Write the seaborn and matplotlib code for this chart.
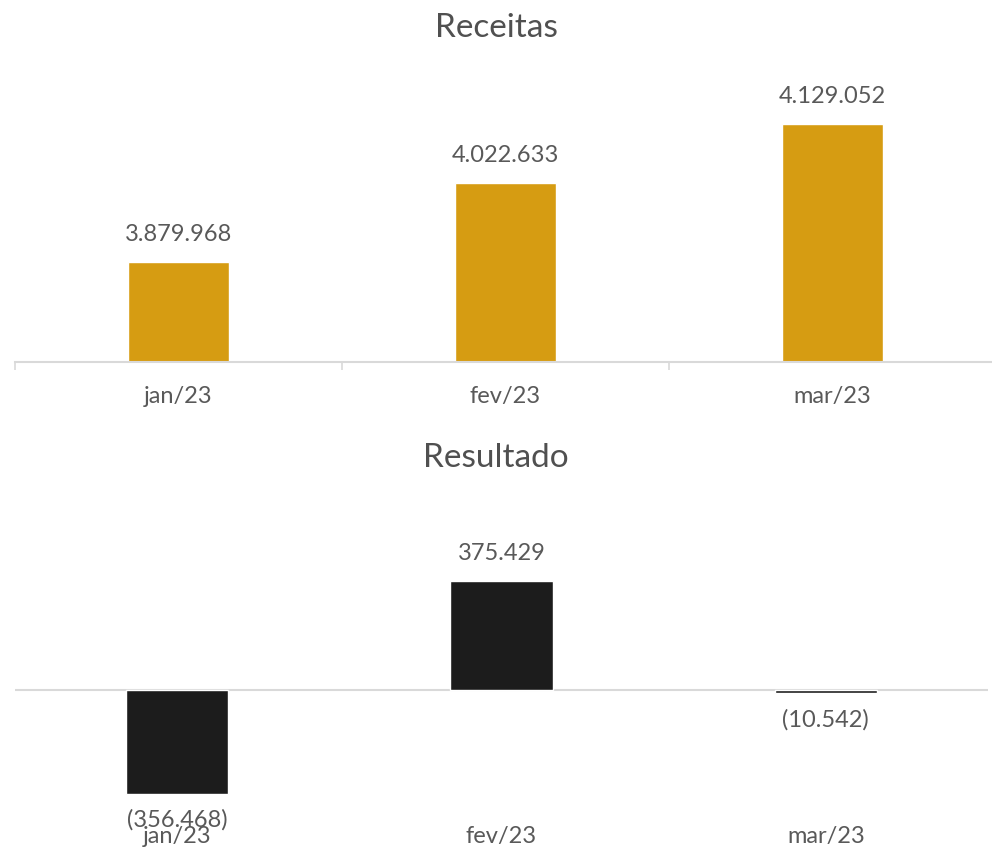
import matplotlib
matplotlib.use("Agg")
import matplotlib.pyplot as plt
import seaborn as sns
import pandas as pd

# data
meses = ["jan/23", "fev/23", "mar/23"]
receitas = [3879968, 4022633, 4129052]
resultado = [-356468, 375429, -10542]

GOLD = "#D69C12"
DARK = "#1C1C1C"
GREY_TXT = "#595959"
LINE = "#D9D9D9"

sns.set_theme(style="white")
plt.rcParams['font.family'] = ['Lato', 'DejaVu Sans']


def fmt(v):
    s = f"{abs(v):,}".replace(",", ".")
    return f"({s})" if v < 0 else s


fig = plt.figure(figsize=(9.92, 8.48), dpi=100)
W, H = 992, 848

# top chart - Receitas
ax1 = fig.add_axes([15 / W, 1 - 362 / H, 981 / W, 302 / H])
df1 = pd.DataFrame({"mes": meses, "valor": receitas})
sns.barplot(data=df1, x="mes", y="valor", color=GOLD, width=0.31,
            saturation=1, ax=ax1)
ax1.set_ylim(3700000, 4245000)
ax1.set_xlim(-0.5, 2.5)
for p, v in zip(ax1.patches, receitas):
    ax1.annotate(fmt(v), (p.get_x() + p.get_width() / 2, v),
                 xytext=(0, 20), textcoords="offset points",
                 ha="center", va="center", fontsize=17, color=GREY_TXT)
for s in ["top", "right", "left"]:
    ax1.spines[s].set_visible(False)
ax1.spines["bottom"].set_color(LINE)
ax1.spines["bottom"].set_linewidth(1.5)
ax1.set_yticks([])
ax1.set_xticks([-0.5, 0.5, 1.5, 2.5], minor=True)
ax1.tick_params(axis="x", which="minor", length=6, width=1.2, color=LINE,
                bottom=True)
ax1.tick_params(axis="x", which="major", length=0, pad=17,
                labelsize=17, labelcolor=GREY_TXT)
ax1.set_xlabel("")
ax1.set_ylabel("")
fig.text(0.5, 1 - 28 / H, "Receitas", ha="center", va="center",
         fontsize=24, color="#505050")

# bottom chart - Resultado
ax2 = fig.add_axes([15 / W, 1 - 820 / H, 973 / W, 320 / H])
df2 = pd.DataFrame({"mes": meses, "valor": resultado})
sns.barplot(data=df2, x="mes", y="valor", color=DARK, width=0.315,
            saturation=1, ax=ax2)
ax2.set_ylim(-447000, 654000)
ax2.set_xlim(-0.5, 2.5)
ax2.axhline(0, color=LINE, lw=1.5, zorder=0)
for p, v in zip(ax2.patches, resultado):
    off = 20 if v > 0 else -19
    ax2.annotate(fmt(v), (p.get_x() + p.get_width() / 2, v),
                 xytext=(0, off), textcoords="offset points",
                 ha="center", va="center", fontsize=17, color=GREY_TXT)
for s in ["top", "right", "left", "bottom"]:
    ax2.spines[s].set_visible(False)
ax2.set_yticks([])
ax2.tick_params(axis="x", length=0, pad=4, labelsize=17,
                labelcolor=GREY_TXT)
ax2.set_xlabel("")
ax2.set_ylabel("")
fig.text(0.5, 1 - 458 / H, "Resultado", ha="center", va="center",
         fontsize=24, color="#505050")

fig.savefig("out.png", dpi=100)
